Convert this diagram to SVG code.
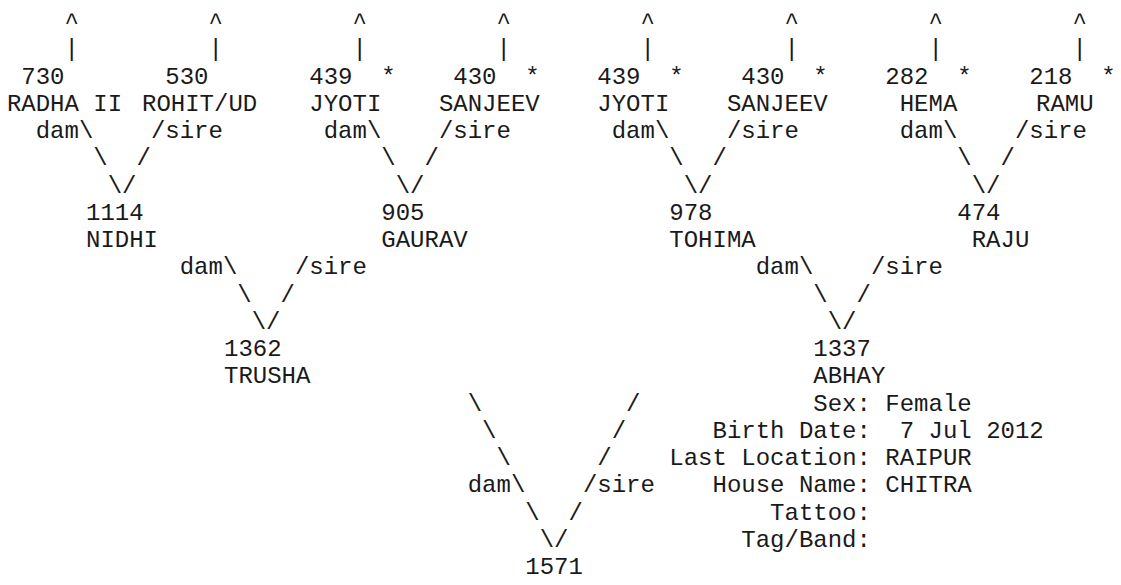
<svg xmlns="http://www.w3.org/2000/svg" width="1121" height="585" viewBox="0 0 1121 585" xml:space="preserve">
<style>
text{font-family:"Liberation Mono","Courier New",monospace;font-size:24px;fill:#1a1a1a;white-space:pre}
</style>
<rect width="1121" height="585" fill="#fff"/>
<g id="connectors">
<text x="64.5" y="29">^</text><text x="208.5" y="29">^</text><text x="352.5" y="29">^</text><text x="496.5" y="29">^</text><text x="640.5" y="29">^</text><text x="784.5" y="29">^</text><text x="928.5" y="29">^</text><text x="1072.5" y="29">^</text>
<text x="64.5" y="56.25">|</text><text x="208.5" y="56.25">|</text><text x="352.5" y="56.25">|</text><text x="496.5" y="56.25">|</text><text x="640.5" y="56.25">|</text><text x="784.5" y="56.25">|</text><text x="928.5" y="56.25">|</text><text x="1072.5" y="56.25">|</text>
<text x="35.7" y="138">dam\</text><text x="150.9" y="138">/sire</text>
<text x="323.7" y="138">dam\</text><text x="438.9" y="138">/sire</text>
<text x="611.7" y="138">dam\</text><text x="726.9" y="138">/sire</text>
<text x="899.7" y="138">dam\</text><text x="1014.9" y="138">/sire</text>
<text x="93.3" y="165.25">\  /</text><text x="381.3" y="165.25">\  /</text><text x="669.3" y="165.25">\  /</text><text x="957.3" y="165.25">\  /</text>
<text x="107.7" y="192.5">\/</text><text x="395.7" y="192.5">\/</text><text x="683.7" y="192.5">\/</text><text x="971.7" y="192.5">\/</text>
<text x="179.7" y="274.25">dam\</text><text x="294.9" y="274.25">/sire</text>
<text x="755.7" y="274.25">dam\</text><text x="870.9" y="274.25">/sire</text>
<text x="237.3" y="301.5">\  /</text><text x="813.3" y="301.5">\  /</text>
<text x="251.7" y="328.75">\/</text><text x="827.7" y="328.75">\/</text>
<text x="467.7" y="410.5">\          /</text>
<text x="482.1" y="437.75">\        /</text>
<text x="496.5" y="465">\      /</text>
<text x="467.7" y="492.25">dam\    /sire</text>
<text x="525.3" y="519.5">\  /</text>
<text x="539.7" y="546.75">\/</text>
</g>
<g id="n730"><text x="21.3" y="83.5">730</text><text x="6.9" y="110.75">RADHA II</text></g>
<g id="n530"><text x="165.3" y="83.5">530</text><text x="142" y="110.75">ROHIT/UD</text></g>
<g id="n439a"><text x="309.3" y="83.5">439  *</text><text x="309.3" y="110.75">JYOTI</text></g>
<g id="n430a"><text x="453.3" y="83.5">430  *</text><text x="438.9" y="110.75">SANJEEV</text></g>
<g id="n439b"><text x="597.3" y="83.5">439  *</text><text x="597.3" y="110.75">JYOTI</text></g>
<g id="n430b"><text x="741.3" y="83.5">430  *</text><text x="726.9" y="110.75">SANJEEV</text></g>
<g id="n282"><text x="885.3" y="83.5">282  *</text><text x="899.7" y="110.75">HEMA</text></g>
<g id="n218"><text x="1029.3" y="83.5">218  *</text><text x="1036" y="110.75">RAMU</text></g>
<g id="n1114"><text x="86" y="219.75">1114</text><text x="86" y="247">NIDHI</text></g>
<g id="n905"><text x="381.3" y="219.75">905</text><text x="381.3" y="247">GAURAV</text></g>
<g id="n978"><text x="669.3" y="219.75">978</text><text x="669.3" y="247">TOHIMA</text></g>
<g id="n474"><text x="957.3" y="219.75">474</text><text x="971.7" y="247">RAJU</text></g>
<g id="n1362"><text x="224" y="356">1362</text><text x="224" y="383.25">TRUSHA</text></g>
<g id="n1337"><text x="813.3" y="356">1337</text><text x="813.3" y="383.25">ABHAY</text></g>
<g id="info">
<text x="813.3" y="410.5">Sex: Female</text>
<text x="712.5" y="437.75">Birth Date:  7 Jul 2012</text>
<text x="669.3" y="465">Last Location: RAIPUR</text>
<text x="712.5" y="492.25">House Name: CHITRA</text>
<text x="770.1" y="519.5">Tattoo:</text>
<text x="741.3" y="546.75">Tag/Band:</text>
</g>
<g id="n1571"><text x="525.3" y="574">1571</text></g>
</svg>
